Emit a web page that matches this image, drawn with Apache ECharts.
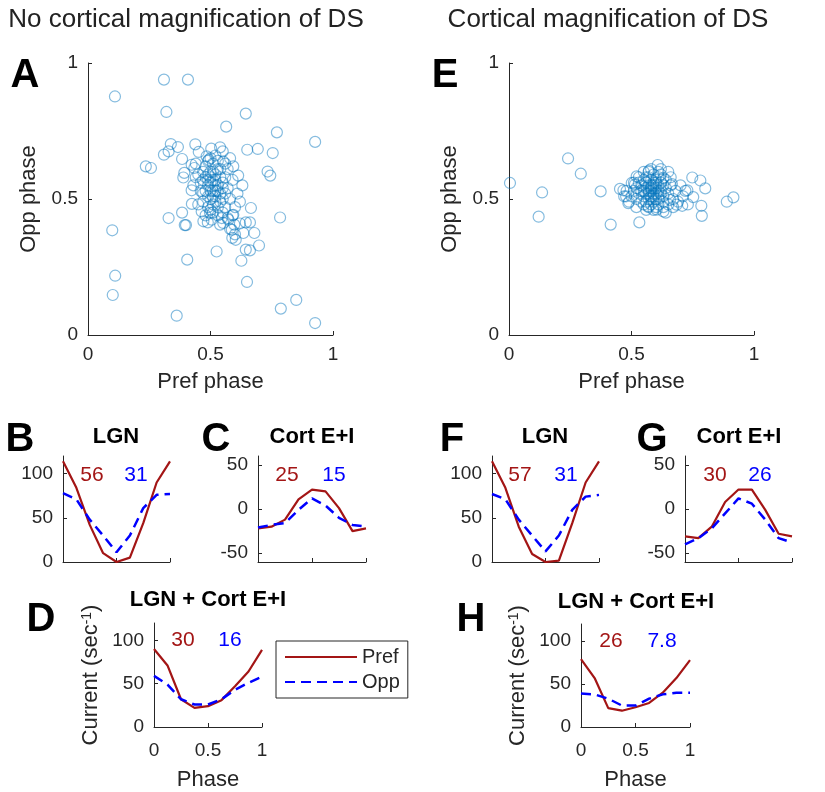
<!DOCTYPE html>
<html>
<head>
<meta charset="utf-8">
<script src="https://cdn.jsdelivr.net/npm/echarts@6/dist/echarts.min.js"></script>
<style>
html, body { margin: 0; padding: 0; background: #fff; }
#main { width: 825px; height: 792px; }
</style>
</head>
<body>
<div id="main"></div>
<script>
// phase tuning, two model variants (no cortical magnification / magnification of DS)

var scatterNoMag = [
    [0.310,0.939],[0.408,0.939],[0.110,0.877],[0.320,0.820],[0.644,0.814],[0.564,0.766],[0.771,0.745],[0.927,0.710],
    [0.338,0.702],[0.367,0.691],[0.310,0.663],[0.329,0.675],[0.438,0.701],[0.452,0.673],[0.384,0.647],[0.503,0.685],
    [0.539,0.690],[0.550,0.675],[0.650,0.681],[0.693,0.684],[0.754,0.669],[0.236,0.620],[0.257,0.614],[0.733,0.601],
    [0.744,0.586],[0.484,0.657],[0.493,0.644],[0.423,0.626],[0.434,0.614],[0.393,0.596],[0.389,0.579],[0.423,0.532],
    [0.613,0.586],[0.593,0.620],[0.552,0.638],
    [0.099,0.385],[0.111,0.218],[0.101,0.147],[0.362,0.071],[0.405,0.277],[0.525,0.307],[0.626,0.273],[0.649,0.195],
    [0.787,0.097],[0.850,0.129],[0.927,0.044],[0.784,0.432],[0.329,0.430],[0.384,0.450],[0.395,0.404],[0.400,0.404],
    [0.424,0.482],[0.665,0.467],[0.644,0.414],[0.661,0.414],[0.679,0.375],[0.698,0.329],[0.644,0.314],[0.661,0.311],
    [0.589,0.357],[0.603,0.350],[0.587,0.387],[0.597,0.406],[0.634,0.375],[0.471,0.418],[0.489,0.414],[0.539,0.406],
    [0.546,0.430],[0.573,0.424],[0.464,0.454],[0.498,0.449],[0.593,0.442],[0.552,0.412],[0.505,0.424],
    [0.48,0.58],[0.50,0.60],[0.52,0.57],[0.49,0.55],[0.51,0.53],[0.53,0.55],[0.47,0.52],[0.50,0.50],
    [0.52,0.49],[0.54,0.52],[0.49,0.47],[0.51,0.45],[0.53,0.47],[0.55,0.50],[0.46,0.56],[0.48,0.62],
    [0.51,0.63],[0.54,0.61],[0.56,0.58],[0.45,0.59],[0.47,0.49],[0.50,0.56],[0.52,0.59],[0.55,0.56],
    [0.57,0.54],[0.49,0.51],[0.51,0.48],[0.53,0.44],[0.48,0.44],[0.56,0.47],[0.58,0.50],[0.46,0.53],
    [0.50,0.53],[0.52,0.51],[0.54,0.58],[0.50,0.65],[0.53,0.64],[0.47,0.60],[0.44,0.63],[0.57,0.61],
    [0.59,0.57],[0.51,0.57],[0.49,0.59],[0.53,0.53],[0.55,0.54],[0.48,0.53],[0.52,0.55],[0.50,0.46],
    [0.55,0.45],[0.57,0.43],[0.60,0.47],[0.61,0.52],[0.45,0.48],[0.43,0.55],[0.44,0.58],[0.56,0.63],
    [0.58,0.65],[0.52,0.66],[0.49,0.64],[0.54,0.49],[0.56,0.52],[0.47,0.57],[0.51,0.60],[0.53,0.61],
    [0.50,0.58],[0.52,0.53],[0.49,0.57],[0.51,0.51],[0.59,0.44],[0.62,0.41],[0.58,0.39],[0.60,0.37],
    [0.62,0.49],[0.63,0.55]
];

var scatterMag = [
    [0.004,0.559],[0.135,0.524],[0.121,0.435],[0.241,0.649],[0.293,0.593],[0.374,0.528],[0.415,0.406],[0.532,0.414],
    [0.607,0.625],[0.571,0.604],[0.748,0.579],[0.781,0.568],[0.801,0.539],[0.728,0.532],[0.752,0.507],[0.785,0.475],
    [0.787,0.438],[0.889,0.490],[0.916,0.506],[0.707,0.475],[0.665,0.555],[0.487,0.485],[0.453,0.537],[0.467,0.532],
    [0.478,0.510],[0.514,0.553],[0.501,0.559],[0.521,0.583],[0.630,0.577],[0.657,0.497],[0.684,0.479],[0.569,0.473],
    [0.603,0.461],[0.630,0.454],
    [0.58,0.53],[0.59,0.54],[0.57,0.52],[0.60,0.52],[0.58,0.55],[0.56,0.54],[0.61,0.55],[0.59,0.51],
    [0.57,0.50],[0.55,0.53],[0.62,0.53],[0.60,0.57],[0.58,0.57],[0.56,0.56],[0.61,0.50],[0.63,0.51],
    [0.59,0.49],[0.57,0.55],[0.55,0.51],[0.54,0.55],[0.64,0.54],[0.62,0.56],[0.60,0.54],[0.58,0.51],
    [0.56,0.49],[0.61,0.58],[0.57,0.58],[0.59,0.59],[0.65,0.52],[0.63,0.49],[0.61,0.48],[0.58,0.48],
    [0.55,0.48],[0.53,0.52],[0.53,0.56],[0.66,0.55],[0.64,0.57],[0.62,0.59],[0.59,0.56],[0.57,0.53],
    [0.60,0.50],[0.58,0.54],[0.61,0.53],[0.56,0.52],[0.59,0.52],[0.55,0.57],[0.52,0.54],[0.67,0.50],
    [0.65,0.48],[0.63,0.47],[0.60,0.47],[0.57,0.47],[0.54,0.49],[0.52,0.50],[0.51,0.53],[0.68,0.53],
    [0.66,0.58],[0.62,0.61],[0.58,0.61],[0.55,0.60],[0.53,0.58],[0.69,0.49],[0.67,0.47],[0.64,0.45],
    [0.59,0.46],[0.56,0.46],[0.50,0.51],[0.51,0.56],[0.70,0.55],[0.71,0.51],[0.61,0.60],[0.57,0.60],
    [0.63,0.55],[0.59,0.55],[0.58,0.50],[0.60,0.56],[0.56,0.58],[0.62,0.52],[0.54,0.53],[0.61,0.51],
    [0.49,0.49],[0.48,0.53],[0.47,0.51],[0.73,0.48],[0.72,0.53],[0.65,0.60],[0.52,0.47]
];

var phase = [0, 0.125, 0.25, 0.375, 0.5, 0.625, 0.75, 0.875, 1];

var lgnPrefNoMag  = [114, 84, 42, 10, 0, 5, 44, 90, 114];
var lgnOppNoMag   = [78, 71, 48, 30, 11, 30, 61, 76, 77];
var cortPrefNoMag = [-22, -20, -12, 11, 22, 20, 1, -25, -22];
var cortOppNoMag  = [-21, -18, -16, -1, 12, 4, -10, -18, -20];
var sumPrefNoMag  = [90, 71, 32, 22, 24, 31, 47, 64, 89];
var sumOppNoMag   = [59, 49, 32, 26, 26, 32, 43, 51, 58];

var lgnPrefMag  = [114, 84, 40, 9, 0, 1.5, 44, 90, 114];
var lgnOppMag   = [77, 71, 48, 30, 12, 30, 59, 74, 76];
var cortPrefMag = [-31, -33, -20, 8, 22, 22, -1, -28, -31];
var cortOppMag  = [-40, -33, -22, -5, 12, 6, -12, -33, -38];
var sumPrefMag  = [79, 57, 22, 19, 23, 28, 40, 57, 78];
var sumOppMag   = [39, 38, 33, 25, 25, 33, 38, 40, 40];

// modulation amplitudes printed in each panel: [LGN, Cort E+I, LGN + Cort E+I]
var prefAmpNoMag = ['56', '25', '30'];
var oppAmpNoMag  = ['31', '15', '16'];
var prefAmpMag   = ['57', '30', '26'];
var oppAmpMag    = ['31', '26', '7.8'];

var phaseTicks = [0, 0.5, 1];
var rateTicks = [0, 50, 100];
var cortTicks = [-50, 0, 50];

var FONT = '"Liberation Sans", Arial, sans-serif';
var AX = '#262626';
var PREF = '#a31515';
var OPP = '#0000ff';
var DOT = 'rgba(0,114,189,0.6)';

var chart = echarts.init(document.getElementById('main'));

var grids = [
    {left: 88, top: 63, width: 245, height: 272},   // A
    {left: 509, top: 63, width: 245, height: 272},  // E
    {left: 63, top: 456, width: 107, height: 106},  // B
    {left: 258, top: 456, width: 108, height: 106}, // C
    {left: 492, top: 456, width: 107, height: 106}, // F
    {left: 685, top: 456, width: 107, height: 106}, // G
    {left: 154, top: 623, width: 108, height: 104}, // D
    {left: 581, top: 624, width: 109, height: 105}  // H
];

function axis(gi, min, max, ticks, extra) {
    var a = {
        gridIndex: gi,
        type: 'value',
        min: min,
        max: max,
        axisLine: {show: true, onZero: false, lineStyle: {color: AX, width: 1}},
        axisTick: {show: true, inside: true, length: 4, customValues: ticks, lineStyle: {color: AX}},
        axisLabel: {show: true, customValues: ticks, color: AX, fontSize: 19, fontFamily: FONT, margin: 10},
        splitLine: {show: false}
    };
    for (var k in extra) a[k] = extra[k];
    return a;
}

var nameStyle = {color: AX, fontSize: 22, fontFamily: FONT};

var xAxes = [
    axis(0, 0, 1, phaseTicks, {name: 'Pref phase', nameLocation: 'middle', nameGap: 36, nameTextStyle: nameStyle}),
    axis(1, 0, 1, phaseTicks, {name: 'Pref phase', nameLocation: 'middle', nameGap: 36, nameTextStyle: nameStyle}),
    axis(2, 0, 1, phaseTicks, {}),
    axis(3, 0, 1, phaseTicks, {}),
    axis(4, 0, 1, phaseTicks, {}),
    axis(5, 0, 1, phaseTicks, {}),
    axis(6, 0, 1, phaseTicks, {name: 'Phase', nameLocation: 'middle', nameGap: 42, nameTextStyle: nameStyle}),
    axis(7, 0, 1, phaseTicks, {name: 'Phase', nameLocation: 'middle', nameGap: 42, nameTextStyle: nameStyle})
];
for (var i = 2; i < 6; i++) xAxes[i].axisLabel.show = false;
xAxes[6].axisLabel.margin = 14;
xAxes[7].axisLabel.margin = 14;

var currentName = {
    name: 'Current (sec{s|-1})', nameLocation: 'middle', nameGap: 52,
    nameTextStyle: {color: AX, fontSize: 22, fontFamily: FONT,
        rich: {s: {fontSize: 14, fontFamily: FONT, color: AX, verticalAlign: 'top', padding: [0, 0, 8, 0]}}}
};

var yAxes = [
    axis(0, 0, 1, phaseTicks, {name: 'Opp phase', nameLocation: 'middle', nameGap: 48, nameTextStyle: nameStyle}),
    axis(1, 0, 1, phaseTicks, {name: 'Opp phase', nameLocation: 'middle', nameGap: 48, nameTextStyle: nameStyle}),
    axis(2, 0, 120, rateTicks, {}),
    axis(3, -60, 60, cortTicks, {}),
    axis(4, 0, 120, rateTicks, {}),
    axis(5, -60, 60, cortTicks, {}),
    axis(6, 0, 120, rateTicks, currentName),
    axis(7, 0, 120, rateTicks, currentName)
];

function pairs(ys) {
    return phase.map(function (p, i) { return [p, ys[i]]; });
}

function scatterSeries(idx, data) {
    return {
        type: 'scatter', xAxisIndex: idx, yAxisIndex: idx, data: data,
        symbol: 'circle', symbolSize: 11,
        itemStyle: {color: 'rgba(0,0,0,0)', borderColor: DOT, borderWidth: 1.2},
        silent: true
    };
}

function prefSeries(idx, ys) {
    return {
        name: 'Pref', type: 'line', xAxisIndex: idx, yAxisIndex: idx, data: pairs(ys),
        symbol: 'none', lineStyle: {color: PREF, width: 2.2}, itemStyle: {color: PREF}, silent: true
    };
}

function oppSeries(idx, ys) {
    return {
        name: 'Opp', type: 'line', xAxisIndex: idx, yAxisIndex: idx, data: pairs(ys),
        symbol: 'none', lineStyle: {color: OPP, width: 2.5, type: [10, 6]}, itemStyle: {color: OPP}, silent: true
    };
}

var series = [
    scatterSeries(0, scatterNoMag),
    scatterSeries(1, scatterMag),
    prefSeries(2, lgnPrefNoMag), oppSeries(2, lgnOppNoMag),
    prefSeries(3, cortPrefNoMag), oppSeries(3, cortOppNoMag),
    prefSeries(4, lgnPrefMag), oppSeries(4, lgnOppMag),
    prefSeries(5, cortPrefMag), oppSeries(5, cortOppMag),
    prefSeries(6, sumPrefNoMag), oppSeries(6, sumOppNoMag),
    prefSeries(7, sumPrefMag), oppSeries(7, sumOppMag)
];

function txt(s, x, y, font, color) {
    return {
        type: 'text', x: x, y: y, silent: true,
        style: {text: s, font: font, fill: color || '#000', textAlign: 'center', textVerticalAlign: 'middle'}
    };
}

var letterFont = 'bold 40px ' + FONT;
var headFont = '26px ' + FONT;
var subFont = 'bold 22px ' + FONT;
var ampFont = '21px ' + FONT;

var graphics = [
    txt('No cortical magnification of DS', 186, 20, headFont, '#222'),
    txt('Cortical magnification of DS', 608, 20, headFont, '#222'),
    txt('A', 25, 76, letterFont), txt('E', 445, 76, letterFont),
    txt('B', 20, 440, letterFont), txt('C', 216, 440, letterFont),
    txt('F', 452, 440, letterFont), txt('G', 652, 440, letterFont),
    txt('D', 41, 620, letterFont), txt('H', 471, 620, letterFont),
    txt('LGN', 116, 437, subFont), txt('Cort E+I', 312, 437, subFont),
    txt('LGN', 545, 437, subFont), txt('Cort E+I', 739, 437, subFont),
    txt('LGN + Cort E+I', 208, 600, subFont), txt('LGN + Cort E+I', 636, 602, subFont),
    txt(prefAmpNoMag[0], 92, 475, ampFont, PREF), txt(oppAmpNoMag[0], 136, 475, ampFont, OPP),
    txt(prefAmpNoMag[1], 287, 475, ampFont, PREF), txt(oppAmpNoMag[1], 334, 475, ampFont, OPP),
    txt(prefAmpNoMag[2], 183, 640, ampFont, PREF), txt(oppAmpNoMag[2], 230, 640, ampFont, OPP),
    txt(prefAmpMag[0], 520, 475, ampFont, PREF), txt(oppAmpMag[0], 566, 475, ampFont, OPP),
    txt(prefAmpMag[1], 715, 475, ampFont, PREF), txt(oppAmpMag[1], 760, 475, ampFont, OPP),
    txt(prefAmpMag[2], 611, 641, ampFont, PREF), txt(oppAmpMag[2], 662, 641, ampFont, OPP)
];

chart.setOption({
    animation: false,
    backgroundColor: '#fff',
    grid: grids,
    xAxis: xAxes,
    yAxis: yAxes,
    legend: {
        data: ['Pref', 'Opp'],
        left: 276, top: 641,
        orient: 'vertical',
        itemWidth: 72, itemHeight: 14, itemGap: 3,
        padding: [5, 8, 5, 8],
        borderColor: AX, borderWidth: 1,
        selectedMode: false,
        itemStyle: {opacity: 0},
        textStyle: {color: AX, fontSize: 20, fontFamily: FONT, lineHeight: 22}
    },
    graphic: graphics,
    series: series
});
</script>
</body>
</html>
